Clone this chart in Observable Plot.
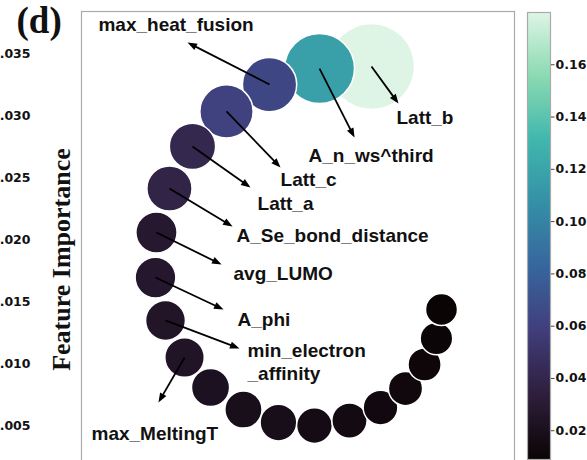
<!DOCTYPE html>
<html><head><meta charset="utf-8">
<script src="https://cdn.jsdelivr.net/npm/d3@7"></script>
<script src="https://cdn.jsdelivr.net/npm/@observablehq/plot@0.6"></script>
<style>
html,body{margin:0;padding:0;background:#fff;overflow:hidden;}
#wrap{position:relative;width:587px;height:460px;overflow:hidden;}
#main{position:absolute;left:0;top:0;}
#cbar{position:absolute;left:520px;top:0;}
</style></head><body>
<div id="wrap"><div id="main"></div><div id="cbar"></div></div>
<script>
// ---- data ----
const importance = [0.180, 0.117, 0.064, 0.061, 0.041, 0.038, 0.028, 0.027, 0.025, 0.024,
                    0.021, 0.019, 0.018, 0.016, 0.015, 0.014, 0.013, 0.011, 0.010, 0.009];
const posX = [0.02344, 0.01924, 0.01520, 0.01172, 0.00897, 0.00711, 0.00606, 0.00598, 0.00679, 0.00833,
              0.01043, 0.01309, 0.01592, 0.01883, 0.02166, 0.02417, 0.02619, 0.02773, 0.02869, 0.02910];
const posY = [0.03397, 0.03380, 0.03251, 0.03034, 0.02752, 0.02413, 0.02058, 0.01695, 0.01349, 0.01050,
              0.00809, 0.00631, 0.00526, 0.00502, 0.00542, 0.00647, 0.00800, 0.00994, 0.01204, 0.01437];
const features = ["Latt_b", "A_n_ws^third", "max_heat_fusion", "Latt_c", "Latt_a",
                  "A_Se_bond_distance", "avg_LUMO", "A_phi", "min_electron_affinity", "max_MeltingT"];
const labelText = ["Latt_b", "A_n_ws^third", "max_heat_fusion", "Latt_c", "Latt_a",
                   "A_Se_bond_distance", "avg_LUMO", "A_phi", "min_electron\n_affinity", "max_MeltingT"];
const labelX = [0.02546, 0.01835, 0.00137, 0.01609, 0.01423, 0.01253, 0.01229, 0.01261, 0.01342, 0.00081];
const labelY = [0.02929, 0.02623, 0.03679, 0.02437, 0.02236, 0.01978, 0.01679, 0.01308, 0.00873, 0.00389];
const tipX = [0.02562, 0.02207, 0.00857, 0.01609, 0.01366, 0.01221, 0.01132, 0.01148, 0.01277, 0.00622];
const tipY = [0.03098, 0.02824, 0.03590, 0.02582, 0.02421, 0.02107, 0.01800, 0.01437, 0.01123, 0.00688];
const yTicks = [0.005, 0.010, 0.015, 0.020, 0.025, 0.030, 0.035];
const cbTicks = [0.02, 0.04, 0.06, 0.08, 0.10, 0.12, 0.14, 0.16];
const panelLabel = "(d)";
const yTitle = "Feature Importance";

// ---- layout ----
const W = 587, H = 460, mL = 81, mR = 73, mT = 11, mB = -47;
const xDomain = [0, 0.035], yDomain = [-0.00159, 0.0384];
const kx = (W - mL - mR) / (xDomain[1] - xDomain[0]);
const ky = (H - mT - mB) / (yDomain[1] - yDomain[0]);
const yMid = (yDomain[0] + yDomain[1]) / 2;

const [vmin, vmax] = d3.extent(importance);
const makoStops = [0, 1/7, 2/7, 3/7, 4/7, 5/7, 6/7, 1];
const makoColors = ["#0b0405", "#2e1e3b", "#413d7b", "#37659e", "#348fa7", "#40b7ad", "#8bdab2", "#def5e5"];
const colorScale = {type: "linear", domain: makoStops.map(t => vmin + t * (vmax - vmin)), range: makoColors, interpolate: "rgb"};

const bubbles = importance.map((v, i) => ({v, x: posX[i], y: posY[i]}));
const ann = features.map((f, i) => {
  const x1 = posX[i], y1 = posY[i], x2 = tipX[i], y2 = tipY[i];
  const dxp = (x2 - x1) * kx, dyp = -(y2 - y1) * ky;
  const len = Math.hypot(dxp, dyp);
  const back = 3 / len;
  return {f, t: labelText[i], lx: labelX[i], ly: labelY[i], x1, y1, x2, y2,
          xe: x2 - (x2 - x1) * back, ye: y2 - (y2 - y1) * back,
          rot: Math.atan2(dxp, -dyp) * 180 / Math.PI};
});

const head = {draw(ctx) { ctx.moveTo(0, 0); ctx.lineTo(-3.6, 9.5); ctx.lineTo(3.6, 9.5); ctx.closePath(); }};

const chart = Plot.plot({
  width: W, height: H, marginLeft: mL, marginRight: mR, marginTop: mT, marginBottom: mB,
  style: {background: "white", overflow: "hidden"},
  x: {domain: xDomain, axis: null},
  y: {domain: yDomain, axis: null},
  r: {type: "pow", exponent: 0.7, domain: [vmin, vmax], range: [16, 43]},
  color: colorScale,
  marks: [
    Plot.frame({stroke: "#aaaaaa", strokeWidth: 1.2}),
    Plot.axisY({ticks: yTicks, tickFormat: d3.format(".3f"), tickSize: 0, tickPadding: 51,
      fontSize: 12.5, fontWeight: "bold", fontFamily: "DejaVu Sans", fill: "#111", label: null}),
    Plot.text([yTitle], {text: d => d, x: () => xDomain[0], y: () => yMid, rotate: -90, dx: -20,
      textAnchor: "middle", lineAnchor: "middle",
      fontFamily: "Liberation Serif", fontWeight: "bold", fontSize: 26, fill: "#111"}),
    Plot.text([panelLabel], {text: d => d, x: () => xDomain[0], y: () => yDomain[1], textAnchor: "start", lineAnchor: "bottom",
      dx: -65, dy: 21, fontFamily: "Liberation Serif", fontWeight: "bold", fontSize: 37, fill: "#111"}),
    Plot.dot(bubbles, {x: "x", y: "y", r: "v", fill: "v", stroke: "white", strokeWidth: 1.5, sort: null}),
    Plot.link(ann, {x1: "x1", y1: "y1", x2: "xe", y2: "ye", stroke: "black", strokeWidth: 1.8}),
    Plot.dot(ann, {x: "x2", y: "y2", symbol: head, rotate: "rot", fill: "black", stroke: "none", r: 4}),
    Plot.text(ann, {x: "lx", y: "ly", text: "t", textAnchor: "start", lineAnchor: "bottom", lineHeight: 1.2,
      fontSize: 19, fontWeight: "bold", fontFamily: "Liberation Sans", fill: "#111"})
  ]
});
document.getElementById("main").append(chart);

const N = 447;
const steps = d3.range(N).map(i => ({a: vmin + (vmax - vmin) * i / N, b: vmin + (vmax - vmin) * (i + 1) / N}));
const cbar = Plot.plot({
  width: 67, height: 460, marginLeft: 7, marginRight: 37, marginTop: 12, marginBottom: 1,
  style: {background: "transparent"},
  x: {domain: [0, 1], axis: null},
  y: {domain: [vmin, vmax], axis: null},
  color: colorScale,
  marks: [
    Plot.rect(steps, {x1: 0, x2: 1, y1: "a", y2: "b", fill: d => (d.a + d.b) / 2, shapeRendering: "crispEdges"}),
    Plot.frame({stroke: "#aaaaaa", strokeWidth: 1.2}),
    Plot.axisY({anchor: "right", ticks: cbTicks, tickFormat: d3.format(".2f"), tickSize: 3.5, tickPadding: 1.5,
      stroke: "#444", fontSize: 12.5, fontWeight: "bold", fontFamily: "DejaVu Sans", fill: "#111", label: null})
  ]
});
document.getElementById("cbar").append(cbar);
</script>
</body></html>
